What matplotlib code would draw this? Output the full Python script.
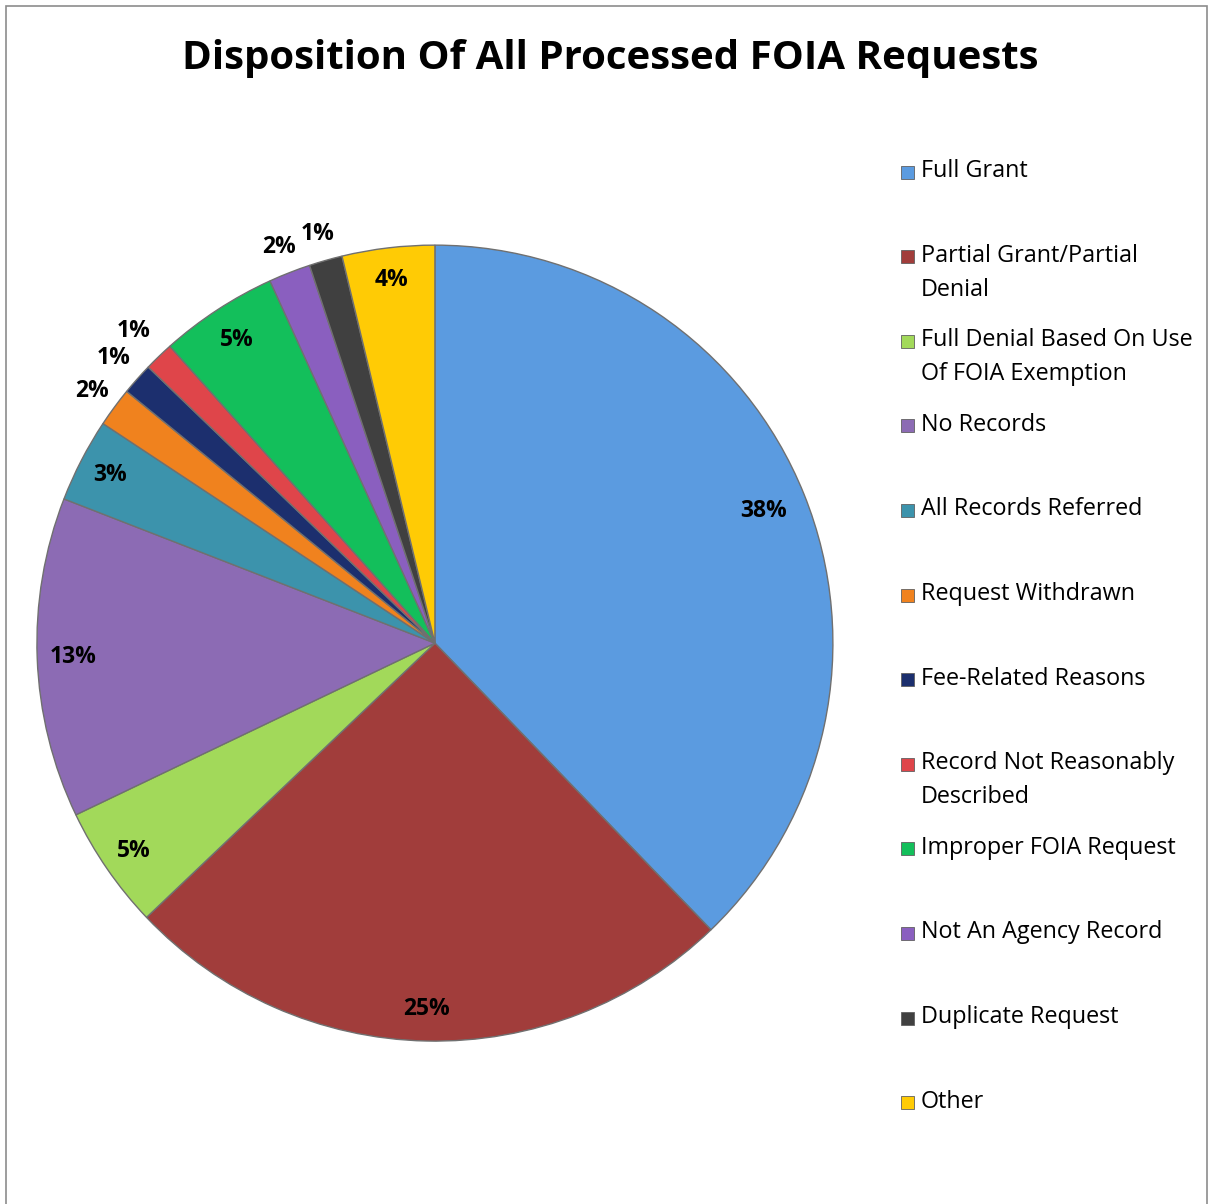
import numpy as np
import matplotlib.pyplot as plt
from matplotlib.patches import Rectangle

categorii = ["Full Grant", "Partial Grant/Partial\nDenial",
             "Full Denial Based On Use\nOf FOIA Exemption", "No Records",
             "All Records Referred", "Request Withdrawn", "Fee-Related Reasons",
             "Record Not Reasonably\nDescribed", "Improper FOIA Request",
             "Not An Agency Record", "Duplicate Request", "Other"]
procente = [37.8, 25.1, 5.0, 13.0, 3.4, 1.6, 1.3, 1.2, 4.8, 1.7, 1.35, 3.75]
culori = ["#5B9BE0", "#A13D3B", "#A2D95A", "#8C6BB4", "#3C93AC", "#F0821E",
          "#1C2F6E", "#DF454A", "#13BF5B", "#8A5FBF", "#404040", "#FFCB05"]
# distanta radiala a etichetelor (interior / exterior)
dist_eticheta = [0.89, 0.92, 0.92, 0.91, 0.92, 1.07, 1.08, 1.09, 0.91, 1.07, 1.07, 0.92]

font = "Open Sans"

fig = plt.figure(figsize=(12.14, 12.04), dpi=100)
fig.patches.append(Rectangle((0.005, -0.01), 0.989, 1.005, transform=fig.transFigure,
                             fill=False, edgecolor="#8c8c8c", linewidth=1.2))

fig.text(0.503, 0.951, "Disposition Of All Processed FOIA Requests", ha="center", va="center",
         fontsize=29, fontweight="bold", family=font)

ax = fig.add_axes([0.0304, 0.1353, 0.6557, 0.6611])
felii, texte = ax.pie(procente, colors=culori, startangle=90, counterclock=False,
                      radius=1.0, wedgeprops=dict(edgecolor="#707070", linewidth=1.0))
ax.set_xlim(-1, 1)
ax.set_ylim(-1, 1)
ax.set_aspect("equal")
ax.axis("off")

for felie, p, d in zip(felii, procente, dist_eticheta):
    unghi = np.deg2rad((felie.theta1 + felie.theta2) / 2)
    ax.text(d * np.cos(unghi), d * np.sin(unghi), "{:.0f}%".format(p),
            ha="center", va="center", fontsize=16.5, fontweight="bold", family=font)

# legenda
y0 = 1 - 172 / 1204
pas = 84.6 / 1204
for i, (nume, c) in enumerate(zip(categorii, culori)):
    y = y0 - i * pas
    fig.patches.append(Rectangle((901 / 1214, y - 6.5 / 1204), 13 / 1214, 13 / 1204,
                                 transform=fig.transFigure, facecolor=c,
                                 edgecolor="#606060", linewidth=0.6))
    fig.text(921 / 1214, y + 13 / 1204, nume, ha="left", va="top", fontsize=16.8,
             family=font, linespacing=1.55)

plt.savefig("out.png", dpi=100)
